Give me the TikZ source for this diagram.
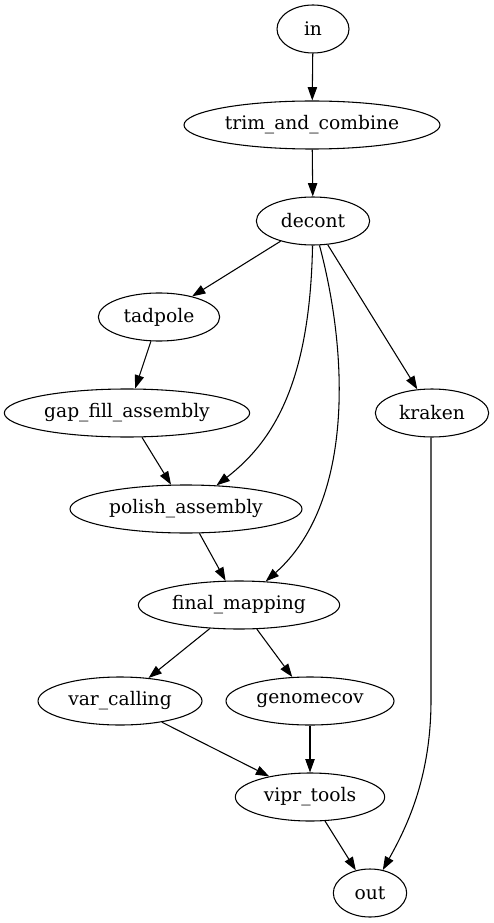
\documentclass[tikz,border=0pt]{standalone}
\usepackage{fontspec}
\setmainfont{DejaVu Serif}
\usetikzlibrary{shapes.geometric,arrows.meta}
\begin{document}
\begin{tikzpicture}[x=0.75pt,y=-0.75pt,
  nd/.style={draw,ellipse,line width=0.8pt,inner sep=0pt,minimum height=36pt,
    font=\fontsize{14pt}{16pt}\selectfont},
  edge/.style={draw,line width=0.8pt,-{Triangle[length=10pt,width=7pt]}}]
\useasboundingbox (0,0) rectangle (493,923);
\node[nd,minimum width=54pt]  (in)     at (313,29)  {in};
\node[nd,minimum width=192pt] (trim)   at (312,125) {trim\_and\_combine};
\node[nd,minimum width=85pt]  (decont) at (313,221) {decont};
\node[nd,minimum width=91pt]  (tad)    at (159,317) {tadpole};
\node[nd,minimum width=184pt] (gap)    at (127,413) {gap\_fill\_assembly};
\node[nd,minimum width=85pt]  (kraken) at (432,413) {kraken};
\node[nd,minimum width=174pt] (polish) at (186,509) {polish\_assembly};
\node[nd,minimum width=151pt] (final)  at (239,605) {final\_mapping};
\node[nd,minimum width=123pt] (var)    at (120,701) {var\_calling};
\node[nd,minimum width=126pt] (genome) at (310,701) {genomecov};
\node[nd,minimum width=112pt] (vipr)   at (310,797) {vipr\_tools};
\node[nd,minimum width=55pt]  (out)    at (370,893) {out};
\coordinate (kbend) at (431,700);
\draw[edge] (in) -- (trim);
\draw[edge] (trim) -- (decont);
\draw[edge] (decont) -- (tad);
\draw[edge] (decont) -- (kraken);
\draw[edge] (decont) .. controls (310,380) and (275,440) .. (polish);
\draw[edge] (decont) .. controls (350,360) and (352,505) .. (final);
\draw[edge] (tad) -- (gap);
\draw[edge] (gap) -- (polish);
\draw[edge] (polish) -- (final);
\draw[edge] (final) -- (var);
\draw[edge] (final) -- (genome);
\draw[edge] (var) -- (vipr);
\draw[edge] (genome) -- (vipr);
\draw[edge] (vipr) -- (out);
\draw[edge] (kraken.south -| kbend) -- (kbend) .. controls (431,780) and (405,830) .. (out);
\end{tikzpicture}
\end{document}
